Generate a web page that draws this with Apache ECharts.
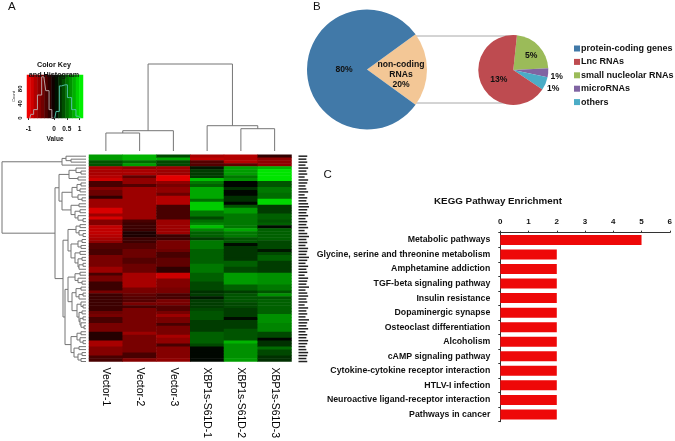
<!DOCTYPE html>
<html><head><meta charset="utf-8">
<style>html,body{margin:0;padding:0;background:#fff}#c{width:675px;height:441px}</style>
<script src="https://cdn.jsdelivr.net/npm/echarts@6/dist/echarts.min.js"></script>
</head><body><div id="c"></div>
<script>
// ---------- Data ----------
const sampleNames = ['Vector-1','Vector-2','Vector-3','XBP1s-S61D-1','XBP1s-S61D-2','XBP1s-S61D-3'];
const vector1 = [.65,.65,.35,.35,-.7,-.7,-.7,-.75,-.85,-.3,-.3,-.55,-.45,-.45,-.2,-.65,-.65,-.65,-.9,-.9,-.65,-.9,-.55,
 -.55,-.8,-.8,-.8,-.75,-.7,-.6,-.35,-.35,-.3,-.3,-.5,-.5,-.5,-.5,-.65,-.65,-.3,-.5,-.5,-.25,-.25,-.25,-.5,
 -.25,-.25,-.25,-.25,-.25,-.25,-.45,-.5,-.3,-.3,-.5,-.5,-.5,-.15,-.15,-.15,-.7,-.7,-.55,-.55,-.55,-.3,-.3];
const vector2 = [.75,.75,.45,.65,-.6,-.7,-.7,-.4,-.6,-.6,-.35,-.65,-.65,-.65,-.65,-.65,-.65,-.65,-.65,-.65,-.65,-.65,-.3,
 -.25,-.25,-.25,-.12,-.12,-.25,-.25,-.35,-.35,-.45,-.45,-.45,-.35,-.35,-.45,-.45,-.45,-.7,-.7,-.7,-.7,-.7,-.5,-.5,
 -.4,-.35,-.35,-.5,-.3,-.5,-.5,-.5,-.5,-.5,-.5,-.5,-.5,-.65,-.5,-.5,-.5,-.5,-.5,-.5,-.3,-.3,-.55];
const vector3 = [.3,.7,.3,.3,-.65,-.65,-.65,-.95,-.95,-.6,-.5,-.6,-.6,-.45,-.75,-.75,-.75,-.3,-.3,-.3,-.3,-.3,-.65,
 -.65,-.65,-.65,-.65,-.25,-.25,-.5,-.5,-.5,-.45,-.3,-.3,-.4,-.4,-.4,-.2,-.2,-.85,-.85,-.55,-.55,-.55,-.5,-.5,
 -.3,-.3,-.5,-.5,-.35,-.35,-.5,-.65,-.5,-.5,-.3,-.5,-.5,-.5,-.7,-.6,-.6,-.3,-.55,-.55,-.55,-.55,-.6];
const xbp1 = [-.7,-.8,-.35,-.35,.1,.25,.25,.25,.8,.5,.4,.7,.7,.7,.7,.45,.85,.85,.85,.5,.5,.3,.45,
 .55,.8,.55,.4,.4,.25,.5,.5,.5,.4,.4,.4,.4,.4,.5,.5,.5,.4,.4,.4,.3,.3,.3,.2,
 .25,.1,.25,.25,.25,.3,.35,.35,.35,.25,.25,.25,.25,.4,.4,.4,.4,.3,.03,.03,.03,.03,.03];
const xbp2 = [-.75,-.75,-.75,-.4,.65,.65,.65,.5,.6,.02,.02,.2,.03,.03,.2,.2,.03,.35,.65,.65,.5,.5,.5,
 .5,.5,.7,.5,.5,.35,.35,.05,.22,.22,.22,.22,.22,.4,.4,.3,.3,.65,.65,.65,.65,.4,.4,.25,
 .35,.35,.35,.3,.3,.25,.25,.25,.05,.25,.25,.25,.35,.35,.35,.35,.75,.6,.6,.6,.6,.6,.65];
const xbp3 = [-.2,-.6,-.6,-.6,.75,.95,.95,.95,.95,.35,.35,.5,.5,.45,.45,.9,.9,.25,.25,.25,.4,.4,.35,
 .4,.05,.4,.4,.4,.4,.3,.3,.3,.1,.3,.4,.4,.25,.25,.25,.25,.6,.6,.6,.6,.5,.5,.35,
 .6,.35,.4,.4,.4,.4,.4,.6,.6,.6,.55,.55,.55,.3,.3,.02,.2,.2,.45,.3,.3,.2,.2];
const heatColumns = [vector1,vector2,vector3,xbp1,xbp2,xbp3];
const rowLabelLengths = [10,9,10,8,11,9,10,7,11,10,8,9,11,7,10,9,11,12,10,9,11,8,10,9,11,7,10,12,9,10,8,11,10,9,12,10,8,11,9,10,
 7,11,10,9,12,8,10,11,9,10,7,11,9,10,8,12,10,9,11,8,10,9,11,10,8,9,11,10,9,10];
// merge trees: [height, left, right]; integers are leaves
const columnTree = [87,[20.3,[18,0,1],2],[25.3,3,[22.3,4,5]]];
const rowTree = [84,
 [24,[20,0,[15,1,2]],3],
 [31,
  [27,
   [17,[10,4,[5,5,6]],[8,7,8]],
   [24,
    [14,[9,[5,9,10],[6,11,12]],[8,13,[4,14,15]]],
    [15,[7,16,17],[11,[6,18,19],[8,20,[3,21,22]]]]]],
  [23,
   [18,[10,[6,23,24],[7,25,[3,26,27]]],[15,[8,[4,28,29],[5,30,31]],[11,[6,32,33],[8,[4,34,35],[7,[3,36,37],38]]]]],
   [21,
    [18,[11,[6,39,40],[8,41,[4,42,43]]],[14,[10,[5,44,45],[7,[3,46,47],48]],[9,[5,49,[3,50,51]],[7,[4,52,53],[6,[3,54,55],[5,56,[2,57,58]]]]]]],
    [15,[9,[5,59,60],[6,61,[3,62,63]]],[12,[7,64,65],[8,[4,66,67],[5,68,69]]]]]]]];
const keyBins = [-1,-.87,-.73,-.6,-.47,-.33,-.2,-.07,.07,.2,.33,.47,.6,.73,.87,1];
const histDown = [[-.95,0],[-.87,10],[-.73,23],[-.57,63],[-.4,113],[-.25,75],[-.14,23],[-.03,0]];
const histUp = [[.03,0],[.13,18],[.29,88],[.44,91],[.61,56],[.77,23],[.95,5],[1.05,0]];
const keyTicksX = [-1,0,0.5,1];
const mainPieNames = ['non-coding RNAs','protein-coding genes'];
const mainPieValues = [20,80];
const subPieNames = ['small nucleolar RNAs','microRNAs','others','Lnc RNAs'];
const subPieValues = [4.5,0.83,1.22,13.45];
const legendNames = ['protein-coding genes','Lnc RNAs','small nucleolar RNAs','microRNAs','others'];
const pathways = ['Metabolic pathways','Glycine, serine and threonine metabolism','Amphetamine addiction','TGF-beta signaling pathway','Insulin resistance','Dopaminergic synapse','Osteoclast differentiation','Alcoholism','cAMP signaling pathway','Cytokine-cytokine receptor interaction','HTLV-I infection','Neuroactive ligand-receptor interaction','Pathways in cancer'];
const pathwayCounts = [5,2,2,2,2,2,2,2,2,2,2,2,2];

// ---------- Helpers ----------
const FONT = '"Liberation Sans", Arial, sans-serif';
const heatData = [];
heatColumns.forEach((col,c)=>col.forEach((v,r)=>heatData.push([c,r,v])));
function treeSegments(tree){
  const segs=[];
  (function walk(n){
    if(typeof n==='number') return {p:n+.5,h:0};
    const a=walk(n[1]), b=walk(n[2]);
    segs.push([a.p,a.h,a.p,n[0],b.p,n[0],b.p,b.h]);
    return {p:(a.p+b.p)/2,h:n[0]};
  })(tree);
  return segs;
}
function dendroSeries(tree,grid,swap){
  return {type:'custom',xAxisIndex:grid,yAxisIndex:grid,coordinateSystem:'cartesian2d',silent:true,clip:false,
    data:treeSegments(tree),
    encode:swap?{x:1,y:0}:{x:0,y:1},
    renderItem(params,api){
      const pts=[];
      for(let i=0;i<8;i+=2){
        const p=api.value(i),h=api.value(i+1);
        pts.push(api.coord(swap?[h,p]:[p,h]));
      }
      return {type:'polyline',shape:{points:pts},style:{stroke:'#757575',lineWidth:1,fill:null}};
    }};
}
const txt=(text,x,y,size,weight,align)=>({text,left:x,top:y,textAlign:align||'left',padding:0,
  textStyle:{fontFamily:FONT,fontSize:size,fontWeight:weight||'bold',color:'#111'}});
const HEAT={left:89,top:154.7,width:202.5,height:208.3};

const option={
  animation:false,backgroundColor:'#fff',textStyle:{fontFamily:FONT},
  title:[
    txt('A',8,1,11.5,'normal'),txt('B',313,1,11.5,'normal'),txt('C',323.5,169,11.5,'normal'),
    txt('Color Key',54,62,7.2,'bold','center'),txt('and Histogram',54,71.5,7.2,'bold','center'),
    txt('KEGG Pathway Enrichment',498,196,9.8,'bold','center')
  ],
  grid:[
    {...HEAT},                                 //0 heatmap
    {left:89,top:63,width:202.5,height:88},    //1 column dendrogram
    {left:0,top:154.7,width:86,height:208.3},  //2 row dendrogram
    {left:298.5,top:154.7,width:14,height:208.3},//3 row labels
    {left:27,top:75,width:56,height:43},       //4 key colours
    {left:27,top:75,width:56,height:43},       //5 histogram
    {left:500.3,top:232.7,width:170.7,height:189} //6 bars
  ],
  xAxis:[
    {gridIndex:0,type:'category',data:sampleNames,axisLine:{show:false},axisTick:{show:false},
     axisLabel:{rotate:-90,margin:6,fontSize:10.4,color:'#000',fontFamily:FONT,interval:0}},
    {gridIndex:1,type:'value',min:0,max:6,show:false},
    {gridIndex:2,type:'value',min:0,max:86,inverse:true,show:false},
    {gridIndex:3,type:'value',min:0,max:16,show:false},
    {gridIndex:4,type:'category',data:keyBins,show:false},
    {gridIndex:5,type:'value',min:-1.06,max:1.137,position:'bottom',offset:2,
     name:'Value',nameLocation:'middle',nameGap:16,
     nameTextStyle:{fontFamily:FONT,fontSize:6.5,fontWeight:'bold',color:'#111'},
     axisLine:{show:false},splitLine:{show:false},
     axisTick:{length:2,customValues:keyTicksX,lineStyle:{color:'#333'}},
     axisLabel:{customValues:keyTicksX,margin:6,fontSize:6.5,fontWeight:'bold',color:'#111'}},
    {gridIndex:6,type:'value',min:0,max:6,interval:1,position:'top',
     axisLine:{show:true,onZero:false,lineStyle:{color:'#333',width:1}},
     axisTick:{show:true,length:2,lineStyle:{color:'#333'}},splitLine:{show:false},
     axisLabel:{margin:7,fontSize:8,fontWeight:'bold',color:'#111'}}
  ],
  yAxis:[
    {gridIndex:0,type:'category',inverse:true,data:heatColumns[0].map((_,i)=>i),show:false},
    {gridIndex:1,type:'value',min:0,max:88,show:false},
    {gridIndex:2,type:'value',min:0,max:70,inverse:true,show:false},
    {gridIndex:3,type:'category',inverse:true,data:heatColumns[0].map((_,i)=>i),show:false},
    {gridIndex:4,type:'category',data:['c'],show:false},
    {gridIndex:5,type:'value',min:0,max:118,interval:20,offset:1,
     name:'Count',nameLocation:'middle',nameGap:10,nameRotate:90,
     nameTextStyle:{fontSize:4,color:'#222'},
     axisLine:{show:false},splitLine:{show:false},
     axisTick:{show:true,length:2,lineStyle:{color:'#333'}},
     axisLabel:{rotate:90,margin:3,fontSize:6,fontWeight:'bold',color:'#111',
       formatter:v=>(v===0||v===40||v===80)?String(v):''}},
    {gridIndex:6,type:'category',inverse:true,data:pathways,
     axisLine:{show:true,onZero:false,lineStyle:{color:'#333',width:1}},
     axisTick:{show:true,length:2,alignWithLabel:false,lineStyle:{color:'#333'}},
     axisLabel:{margin:10,fontSize:8.75,fontWeight:'bold',color:'#111',interval:0}}
  ],
  visualMap:[{show:false,type:'continuous',min:-1,max:1,dimension:2,seriesIndex:[0,1],
    inRange:{color:['#f00000','#000000','#00f000']}}],
  legend:{orient:'vertical',left:569,top:38.5,itemWidth:6,itemHeight:6,itemGap:3.4,icon:'rect',selectedMode:false,
    data:legendNames,formatter:n=>n,
    textStyle:{fontFamily:FONT,fontSize:9,fontWeight:'bold',color:'#111',height:10,lineHeight:10,padding:[0,0,0,-4]}},
  series:[
    {type:'heatmap',xAxisIndex:0,yAxisIndex:0,data:heatData,silent:true,itemStyle:{borderWidth:0}},
    {type:'heatmap',xAxisIndex:4,yAxisIndex:4,data:keyBins.map((v,i)=>[i,0,v]),silent:true},
    dendroSeries(columnTree,1,false),
    dendroSeries(rowTree,2,true),
    {type:'bar',xAxisIndex:3,yAxisIndex:3,data:rowLabelLengths,barWidth:1.5,silent:true,itemStyle:{color:'#222'}},
    {type:'line',xAxisIndex:5,yAxisIndex:5,data:histDown,step:'middle',symbol:'none',silent:true,lineStyle:{color:'#b8a0a0',width:1}},
    {type:'line',xAxisIndex:5,yAxisIndex:5,data:histUp,step:'middle',symbol:'none',silent:true,lineStyle:{color:'#4fbfa5',width:1}},
    {type:'bar',xAxisIndex:6,yAxisIndex:6,data:pathwayCounts,barWidth:10,silent:true,itemStyle:{color:'#ee0808'}},
    {type:'pie',center:[367,69.5],radius:[0,60],startAngle:36,silent:true,
     data:mainPieNames.map((n,i)=>({name:n,value:mainPieValues[i]})),
     color:['#F3C796','#4179A8'],
     label:{position:'inside',fontFamily:FONT,fontSize:8.6,fontWeight:'bold',color:'#111',lineHeight:10,
       formatter:p=>p.dataIndex===0?'non-coding\nRNAs\n'+p.value+'%':p.value+'%'},
     labelLine:{show:false},
     labelLayout:p=>p.dataIndex===0?{dx:1,dy:5}:{dx:10,dy:0}},
    {type:'pie',center:[513.3,70],radius:[0,35],startAngle:84,silent:true,
     data:subPieNames.map((n,i)=>({name:n,value:subPieValues[i]})),
     color:['#9BBB59','#8064A2','#4BACC6','#BE4B50'],
     label:{position:'inside',fontFamily:FONT,fontSize:8.6,fontWeight:'bold',color:'#111',
       formatter:p=>Math.round(p.value)+'%'},
     labelLine:{show:false},
     labelLayout:p=>[{dx:3,dy:0},{dx:23,dy:5},{dx:21,dy:11},{dx:4,dy:1}][p.dataIndex]}
  ],
  graphic:[
    {type:'line',shape:{x1:415,y1:36,x2:516,y2:36},style:{stroke:'#a8a8a8',lineWidth:1},silent:true},
    {type:'line',shape:{x1:415,y1:103,x2:513,y2:103},style:{stroke:'#a8a8a8',lineWidth:1},silent:true}
  ]
};
const chart=echarts.init(document.getElementById('c'),null,{renderer:'canvas',width:675,height:441});
chart.setOption(option);
</script></body></html>
